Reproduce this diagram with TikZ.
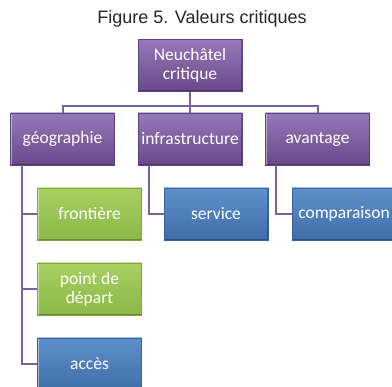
\documentclass[tikz,border=0pt]{standalone}
\usepackage{fontspec}
\setmainfont{Carlito}
\newfontfamily\titlefont{Liberation Sans}
\definecolor{pTop}{HTML}{9679BA}
\definecolor{pBot}{HTML}{684888}
\definecolor{pEdge}{HTML}{5E4180}
\definecolor{gTop}{HTML}{A9D063}
\definecolor{gBot}{HTML}{8AB847}
\definecolor{gEdge}{HTML}{7EA63E}
\definecolor{bTop}{HTML}{5E90CC}
\definecolor{bBot}{HTML}{3F6EAA}
\definecolor{bEdge}{HTML}{39659C}
\definecolor{connC}{HTML}{7D5FA0}
\begin{document}
\begin{tikzpicture}[x=1pt,y=-1pt,
  box/.style={rectangle, minimum width=104pt, minimum height=52pt, inner sep=0pt,
    text=white, font=\fontsize{17.5}{19}\selectfont, align=center, line width=0.6pt,
    path picture={
      \draw[white, opacity=0.45, line width=2pt]
        (path picture bounding box.south west) -- (path picture bounding box.north west)
        -- (path picture bounding box.north east);
      \draw[black, opacity=0.25, line width=2pt]
        (path picture bounding box.north east) -- (path picture bounding box.south east)
        -- (path picture bounding box.south west);}},
  pbox/.style={box, top color=pTop, bottom color=pBot, draw=pEdge},
  gbox/.style={box, top color=gTop, bottom color=gBot, draw=gEdge},
  bbox/.style={box, top color=bTop, bottom color=bBot, draw=bEdge},
  conn/.style={draw=connC, line width=2pt, line join=miter}]
\useasboundingbox (0,0) rectangle (392,387);
\clip (0,0) rectangle (392,387);
\node[font=\titlefont\fontsize{18}{20}\selectfont, text=black!85] (title) at (202,19) {Figure 5. Valeurs critiques};
% level 1
\node[pbox] (root) at (190,65.5) {Neuchâtel\\critique};
% level 2
\node[pbox] (geo) at (62.5,139) {géographie};
\node[pbox] (inf) at (190,139) {infrastructure};
\node[pbox] (ava) at (317.5,139) {avantage};
% level 3
\node[gbox] (fro) at (89.5,214) {frontière};
\node[gbox] (pdd) at (89.5,289) {point de\\départ};
\node[bbox] (acc) at (89.5,364) {accès};
\node[bbox] (ser) at (216,214) {service};
\node[bbox] (com) at (344,214) {comparaison};
% connectors
\coordinate (bus) at (190,106);
\draw[conn] (root.south) -- (bus);
\draw[conn] (geo.north) |- (bus) -| (ava.north);
\draw[conn] (bus) -- (inf.north);
\coordinate (gx) at (22,165);
\draw[conn] (gx) |- (fro.west);
\draw[conn] (gx) |- (pdd.west);
\draw[conn] (gx) |- (acc.west);
\coordinate (ix) at (149,165);
\draw[conn] (ix) |- (ser.west);
\coordinate (ax) at (276,165);
\draw[conn] (ax) |- (com.west);
\end{tikzpicture}
\end{document}
